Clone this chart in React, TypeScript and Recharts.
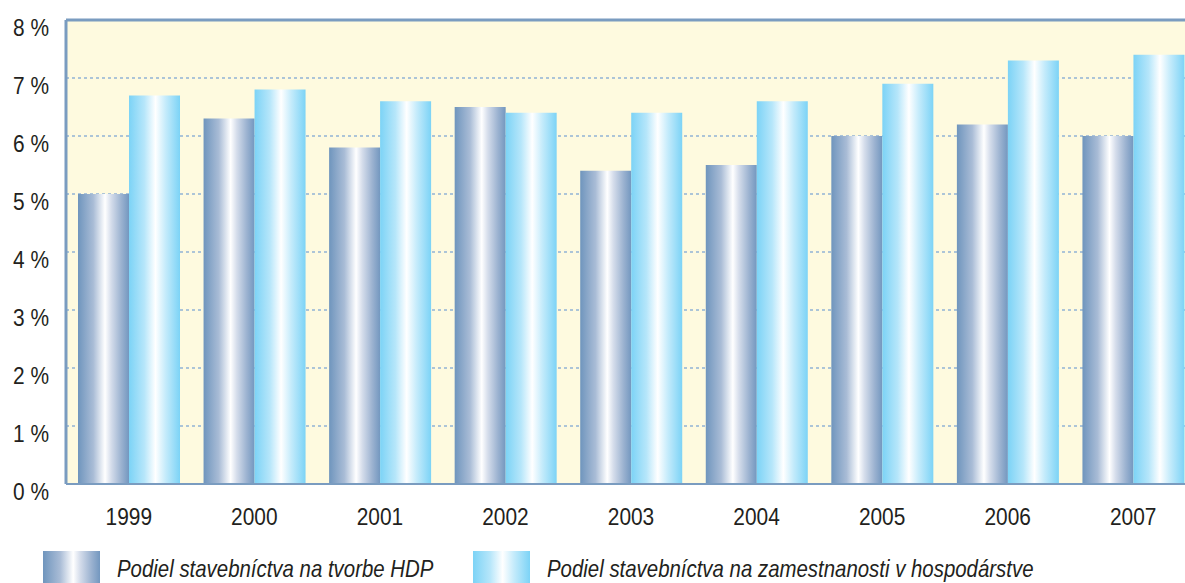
import React from "react"
import { BarChart, Bar, XAxis, YAxis, CartesianGrid, ReferenceLine } from "recharts"

const years = ["1999", "2000", "2001", "2002", "2003", "2004", "2005", "2006", "2007"]
const gdpShare = [5.0, 6.3, 5.8, 6.5, 5.4, 5.5, 6.0, 6.2, 6.0]
const employmentShare = [6.7, 6.8, 6.6, 6.4, 6.4, 6.6, 6.9, 7.3, 7.4]
const yTicks = [0, 1, 2, 3, 4, 5, 6, 7, 8]
const seriesNames = [
  "Podiel stavebníctva na tvorbe HDP",
  "Podiel stavebníctva na zamestnanosti v hospodárstve",
]

const data = years.map((year, i) => ({
  year,
  gdp: gdpShare[i],
  employment: employmentShare[i],
}))

// no condensed face installed, so squeeze Liberation Sans horizontally
const FONT = "'Liberation Sans', Arial, sans-serif"
const SQUEEZE = 0.87
const TEXT = "#231f20"
const FRAME = "#7a9cc0"

const grayBlue = "linear-gradient(to right, #6f95bd 0%, #a9bcd6 30%, #ffffff 53%, #d5ddeb 65%, #9bb2d0 85%, #7397bf 100%)"
const skyBlue = "linear-gradient(to right, #7cd3f6 0%, #b6e6fa 30%, #ffffff 52%, #c4ebfb 72%, #7cd3f6 100%)"

const YTick = ({ x, y, payload }: any) => (
  <text
    transform={`translate(${x - 9},${y + 8}) scale(${SQUEEZE},1)`}
    textAnchor="end"
    dominantBaseline="central"
    fontFamily={FONT}
    fontSize={24}
    fill={TEXT}
  >
    {`${payload.value} %`}
  </text>
)

const XTick = ({ x, y, payload }: any) => (
  <text
    transform={`translate(${x},${y + 25}) scale(${SQUEEZE},1)`}
    textAnchor="middle"
    dominantBaseline="central"
    fontFamily={FONT}
    fontSize={24}
    fill={TEXT}
  >
    {payload.value}
  </text>
)

export default function App() {
  return (
    <div style={{ position: "absolute", left: 0, top: 0, width: 1185, height: 583, overflow: "hidden", background: "#fff" }}>
      <style>{"body{margin:0}"}</style>
      <BarChart
        width={1200}
        height={583}
        data={data}
        margin={{ top: 20, right: 4, left: 0, bottom: 0 }}
        barSize={51}
        barGap={0}
      >
        <defs>
          <linearGradient id="gradGdp" x1="0" y1="0" x2="1" y2="0">
            <stop offset="0%" stopColor="#6f95bd" />
            <stop offset="30%" stopColor="#a9bcd6" />
            <stop offset="53%" stopColor="#ffffff" />
            <stop offset="65%" stopColor="#d5ddeb" />
            <stop offset="85%" stopColor="#9bb2d0" />
            <stop offset="100%" stopColor="#7397bf" />
          </linearGradient>
          <linearGradient id="gradEmp" x1="0" y1="0" x2="1" y2="0">
            <stop offset="0%" stopColor="#7cd3f6" />
            <stop offset="30%" stopColor="#b6e6fa" />
            <stop offset="52%" stopColor="#ffffff" />
            <stop offset="72%" stopColor="#c4ebfb" />
            <stop offset="100%" stopColor="#7cd3f6" />
          </linearGradient>
        </defs>
        <CartesianGrid vertical={false} fill="#fefadf" stroke="#5b8fd0" strokeDasharray="3 3" />
        <XAxis
          dataKey="year"
          height={99}
          tickLine={false}
          axisLine={{ stroke: FRAME, strokeWidth: 2 }}
          tick={<XTick />}
        />
        <YAxis
          width={66}
          domain={[0, 8]}
          ticks={yTicks}
          interval={0}
          tickLine={false}
          axisLine={{ stroke: FRAME, strokeWidth: 3 }}
          tick={<YTick />}
        />
        <ReferenceLine y={8} stroke={FRAME} strokeWidth={3} />
        <Bar dataKey="gdp" fill="url(#gradGdp)" isAnimationActive={false} />
        <Bar dataKey="employment" fill="url(#gradEmp)" isAnimationActive={false} />
      </BarChart>

      {[0, 1].map((i) => (
        <div key={i} style={{ position: "absolute", left: i === 0 ? 43 : 473, top: 551, display: "flex", alignItems: "flex-start" }}>
          <span style={{ display: "inline-block", width: 57, height: 40, background: i === 0 ? grayBlue : skyBlue }} />
          <span
            style={{
              marginLeft: 17,
              marginTop: 5,
              fontFamily: FONT,
              fontStyle: "italic",
              fontSize: 24,
              lineHeight: "26px",
              color: TEXT,
              whiteSpace: "nowrap",
              transform: `scaleX(0.85)`,
              transformOrigin: "left center",
            }}
          >
            {seriesNames[i]}
          </span>
        </div>
      ))}
    </div>
  )
}
